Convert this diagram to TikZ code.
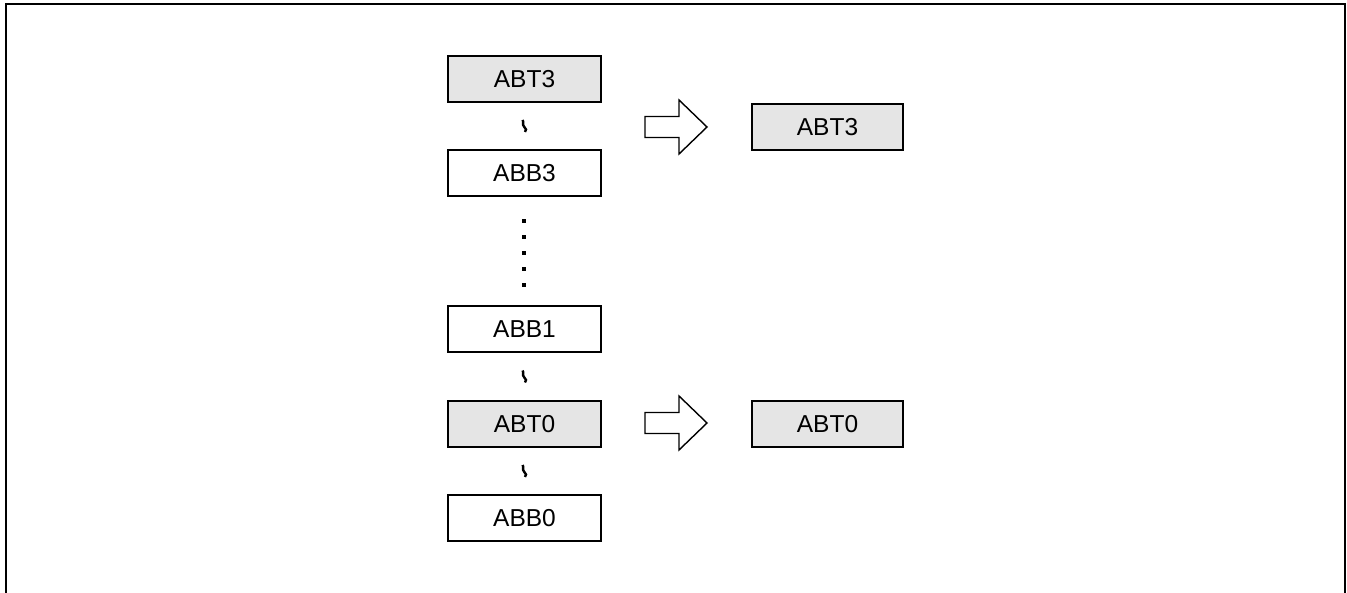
\documentclass[tikz,border=0pt]{standalone}
\usepackage{fontspec}
\setmainfont{Liberation Sans}
\usetikzlibrary{calc}
\begin{document}
\begin{tikzpicture}[x=1pt,y=-1pt,
  regbox/.style={draw=black,line width=1.6pt,minimum width=153pt,minimum height=46pt,inner sep=0pt,font=\fontsize{24.5}{29}\selectfont},
  shaded/.style={regbox,fill=black!10},
  plain/.style={regbox,fill=white},
  wavy/.style={line width=2.4pt,line cap=butt},
  bigarrow/.style={draw=black,line width=1.4pt,fill=white,line join=miter},
  dotsq/.style={fill=black}
]
\useasboundingbox (0,0) rectangle (1347,593);
% frame (open at bottom)
\draw[line width=2pt] (6,593) -- (6,4) -- (1345,4) -- (1345,593);

% left column
\node[shaded] (t3) at (524.5,79) {ABT3};
\node[plain]  (b3) at (524.5,173) {ABB3};
\node[plain]  (b1) at (524.5,329) {ABB1};
\node[shaded] (t0) at (524.5,424) {ABT0};
\node[plain]  (b0) at (524.5,518) {ABB0};

% right column
\node[shaded,minimum width=151pt] (r3) at (827.5,127) {ABT3};
\node[shaded,minimum width=151pt] (r0) at (827.5,424) {ABT0};

% wavy separators
\coordinate (w1) at ($(t3.south)!0.5!(b3.north)$);
\coordinate (w2) at ($(b1.south)!0.5!(t0.north)$);
\coordinate (w3) at ($(t0.south)!0.5!(b0.north)$);
\foreach \w in {w1,w2,w3}{
  \draw[wavy] ([shift={(-2,-6)}]\w) .. controls ([shift={(-0.5,-5)}]\w) and ([shift={(-2.5,-1)}]\w) .. ([shift={(-0.5,0.5)}]\w)
     .. controls ([shift={(1.5,2)}]\w) and ([shift={(2.5,5)}]\w) .. ([shift={(0.5,6)}]\w);
}

% vertical dots
\foreach \yy in {221,237,253,269,285}{
  \fill[dotsq] (522.4,\yy-1.7) rectangle (525.8,\yy+1.7);
}

% block arrows
\coordinate (a3) at (645,127);
\coordinate (a0) at (645,423);
\foreach \a in {a3,a0}{
  \draw[bigarrow] ([shift={(0,-10.5)}]\a) -- ([shift={(34,-10.5)}]\a) -- ([shift={(34,-27)}]\a)
    -- ([shift={(62,0)}]\a) -- ([shift={(34,27)}]\a) -- ([shift={(34,10.5)}]\a)
    -- ([shift={(0,10.5)}]\a) -- cycle;
}
\end{tikzpicture}
\end{document}
